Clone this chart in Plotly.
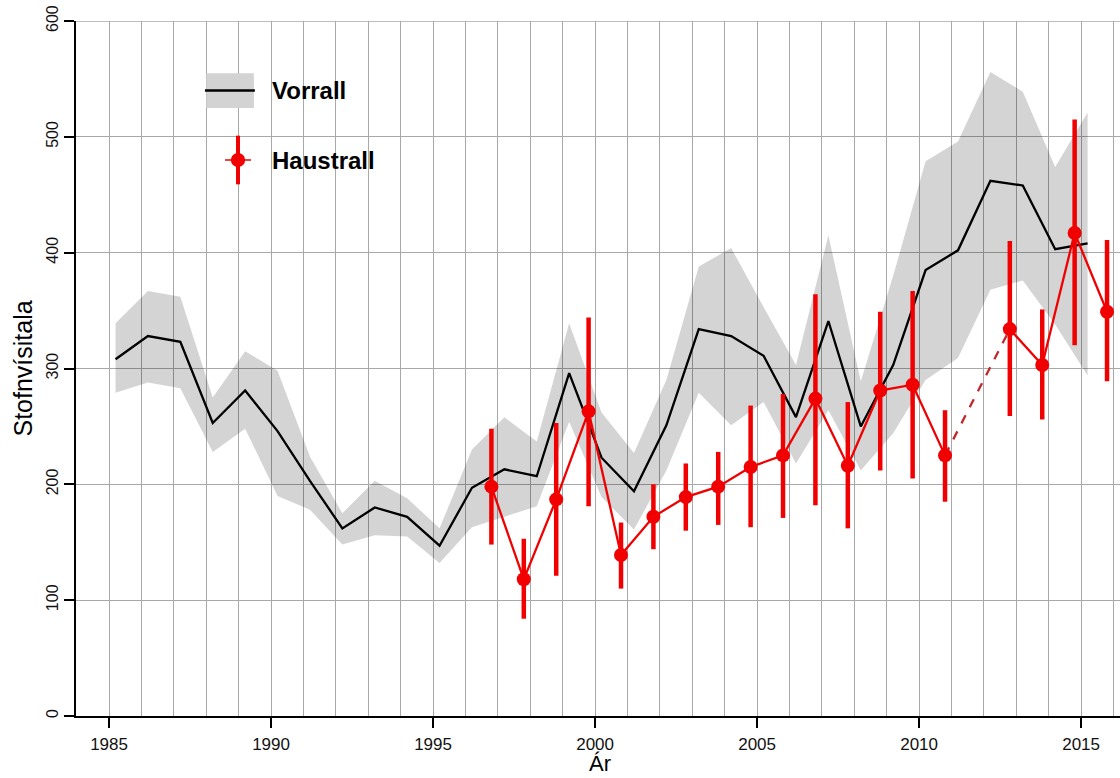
import plotly.graph_objects as go

# Vorrall (spring survey) index with confidence band
vor_years = list(range(1985, 2016))
vor_index = [308, 328, 323, 253, 281, 246, 203, 162, 180, 172, 147,
             197, 213, 207, 296, 223, 194, 251, 334, 328, 311,
             258, 341, 250, 303, 385, 402, 462, 458, 403, 408]
vor_low = [279, 288, 283, 228, 248, 190, 178, 148, 156, 155, 132,
           163, 172, 181, 254, 189, 161, 212, 279, 251, 271,
           218, 264, 212, 244, 290, 309, 368, 376, 338, 294]
vor_high = [339, 367, 362, 275, 315, 298, 224, 175, 203, 188, 162,
            230, 258, 237, 339, 262, 227, 290, 388, 404, 353,
            303, 415, 289, 380, 479, 496, 556, 539, 474, 521]

# Haustrall (autumn survey) index with error bars, no survey in 2011
haust_years = list(range(1996, 2016))
haust_index = [198, 118, 187, 263, 139, 172, 189, 198, 215, 225,
               274, 216, 281, 286, 225, None, 334, 303, 417, 349]
haust_low = [148, 84, 121, 181, 110, 144, 160, 165, 163, 171,
             182, 162, 212, 205, 185, None, 259, 256, 320, 289]
haust_high = [248, 153, 253, 344, 167, 200, 218, 228, 268, 278,
              364, 271, 349, 367, 264, None, 410, 351, 515, 411]

x_ticks = [1985, 1990, 1995, 2000, 2005, 2010, 2015]
y_ticks = [0, 100, 200, 300, 400, 500, 600]

RED = "#f00000"
GRID = "#a8a8a8"
FONT = "Liberation Sans"

# spring survey sits early in the year, autumn survey late
vx = [y + 0.2 for y in vor_years]
hx = [y + 0.8 for y in haust_years]

fig = go.Figure()

# confidence band
fig.add_trace(go.Scatter(
    x=vx + vx[::-1], y=vor_high + vor_low[::-1],
    fill="toself", fillcolor="rgba(0,0,0,0.17)", line=dict(width=0),
    mode="lines", hoverinfo="skip", showlegend=False))

fig.add_trace(go.Scatter(
    x=vx, y=vor_index, mode="lines",
    line=dict(color="black", width=2.3), showlegend=False))

# dashed link across the missing year
gap = haust_index.index(None)
fig.add_trace(go.Scatter(
    x=[hx[gap - 1], hx[gap + 1]], y=[haust_index[gap - 1], haust_index[gap + 1]],
    mode="lines", line=dict(color="#c0282d", width=2.3, dash="dash"),
    showlegend=False))

err_up = [None if v is None else h - v for v, h in zip(haust_index, haust_high)]
err_dn = [None if v is None else v - l for v, l in zip(haust_index, haust_low)]
fig.add_trace(go.Scatter(
    x=hx, y=haust_index, mode="lines+markers", connectgaps=False,
    line=dict(color=RED, width=2.3),
    marker=dict(color=RED, size=14),
    error_y=dict(type="data", array=err_up, arrayminus=err_dn,
                 color=RED, thickness=4.5, width=0),
    showlegend=False))

# hand drawn legend, plus the top grid line plotly skips at the edge
shapes = [
    dict(type="line", xref="paper", x0=0, x1=1, y0=600, y1=600,
         line=dict(color=GRID, width=1.3), layer="below"),
    dict(type="rect", x0=1988.0, x1=1989.47, y0=525, y1=555,
         fillcolor="#d3d3d3", line=dict(width=0)),
    dict(type="line", x0=1987.96, x1=1989.5, y0=540, y1=540,
         line=dict(color="black", width=2.5)),
    dict(type="line", x0=1988.98, x1=1988.98, y0=459, y1=501,
         line=dict(color=RED, width=4)),
    dict(type="line", x0=1988.58, x1=1989.38, y0=480, y1=480,
         line=dict(color=RED, width=1.5)),
    dict(type="circle", x0=1988.98 - 0.22, x1=1988.98 + 0.22, y0=474, y1=486,
         fillcolor=RED, line=dict(width=0)),
]

annotations = [
    dict(x=1989.98, y=540, xref="x", yref="y", text="<b>Vorrall</b>",
         showarrow=False, xanchor="left", yanchor="middle",
         font=dict(family=FONT, size=24, color="black")),
    dict(x=1989.98, y=480, xref="x", yref="y", text="<b>Haustrall</b>",
         showarrow=False, xanchor="left", yanchor="middle",
         font=dict(family=FONT, size=24, color="black")),
    dict(x=0, y=300, xref="paper", yref="y", text="Stofnvísitala",
         showarrow=False, textangle=-90, xanchor="center", yanchor="middle",
         xshift=-54, font=dict(family=FONT, size=25, color="black")),
    dict(x=2000.15, y=0, xref="x", yref="paper", text="Ár",
         showarrow=False, xanchor="center", yanchor="bottom",
         yshift=-62, font=dict(family=FONT, size=22, color="black")),
]

fig.update_xaxes(
    range=[1983.98, 2016.2], tickvals=x_ticks, automargin=False,
    ticks="outside", ticklen=10, tickwidth=1.5, tickcolor="black",
    ticklabelstandoff=2, ticklabeloverflow="allow",
    showline=True, linecolor="black", linewidth=2,
    showgrid=True, gridcolor=GRID, gridwidth=1.3, zeroline=False,
    minor=dict(dtick=1, tick0=1985, showgrid=True, gridcolor=GRID,
               gridwidth=1.3, ticks=""),
    tickfont=dict(family=FONT, size=17, color="#111"))

fig.update_yaxes(
    range=[0, 600], tickvals=y_ticks, tickangle=-90, automargin=False,
    ticks="outside", ticklen=10, tickwidth=1.5, tickcolor="black",
    ticklabelstandoff=0, ticklabeloverflow="allow",
    showline=True, linecolor="black", linewidth=2,
    showgrid=True, gridcolor=GRID, gridwidth=1.3, zeroline=False,
    tickfont=dict(family=FONT, size=16, color="#111"))

fig.update_layout(
    width=1120, height=778,
    margin=dict(l=76, r=0, t=21, b=62, autoexpand=False),
    plot_bgcolor="white", paper_bgcolor="white",
    shapes=shapes, annotations=annotations,
    showlegend=False)

# drop the default body margin so the figure fills the window
fig.write_html("out.html", config={"displayModeBar": False},
               post_script="document.body.style.margin='0';")
